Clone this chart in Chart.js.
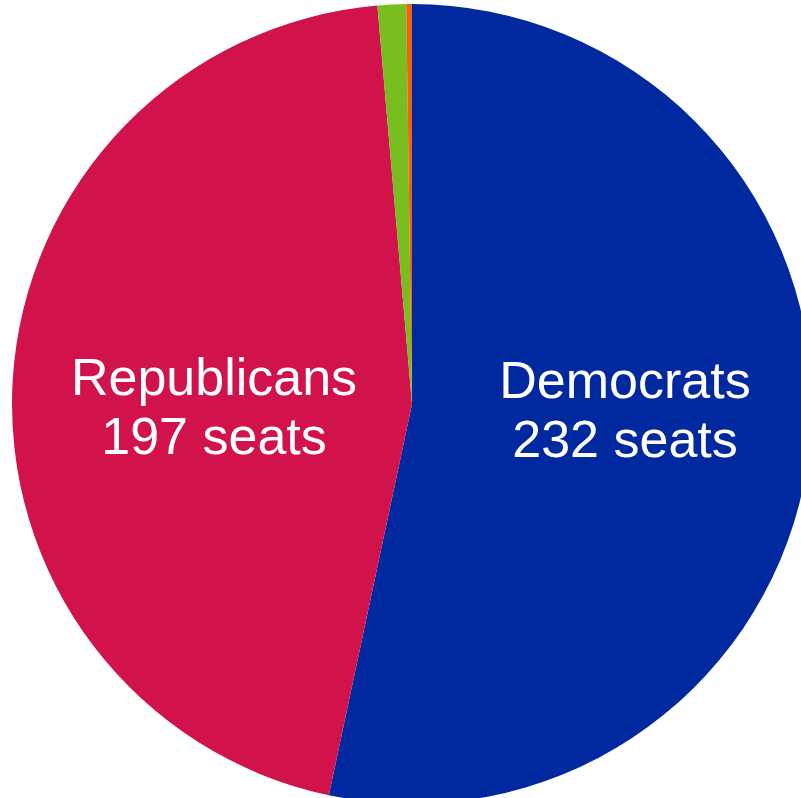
<!DOCTYPE html>
<html>
<head>
<meta charset="utf-8">
<script src="https://cdn.jsdelivr.net/npm/chart.js@4.4.1/dist/chart.umd.min.js"></script>
<style>
  html, body { margin: 0; padding: 0; background: #ffffff; overflow: hidden; width: 801px; height: 798px; }
  #wrap { position: absolute; left: 0; top: 0; width: 824px; height: 808px; }
</style>
</head>
<body>
<div id="wrap"><canvas id="c" width="824" height="808"></canvas></div>
<script>
// House seats by party
const parties = ['Democrats', 'Republicans', 'Independents', 'Other'];
const seats = [232, 197, 5, 1];
const partyColors = ['#0029a0', '#d2124a', '#78be1f', '#ee6410'];
// Which slices carry an in-chart caption
const captioned = [true, true, false, false];

// Captions drawn inside the two large slices
const sliceCaptions = {
  id: 'sliceCaptions',
  afterDatasetsDraw(chart) {
    const ctx = chart.ctx;
    const arcs = chart.getDatasetMeta(0).data;
    const cx = arcs[0].x, cy = arcs[0].y;
    const offsets = [
      { dx: 213, dy: -6 },   // Democrats, right half
      { dx: -198, dy: -9 }   // Republicans, left half
    ];
    ctx.save();
    ctx.fillStyle = '#ffffff';
    ctx.font = '52px "Liberation Sans", Arial, sans-serif';
    ctx.textAlign = 'center';
    ctx.textBaseline = 'alphabetic';
    parties.forEach((name, i) => {
      if (!captioned[i]) return;
      const o = offsets[i];
      ctx.fillText(name, cx + o.dx, cy + o.dy);
      ctx.fillText(seats[i] + ' seats', cx + o.dx, cy + o.dy + 59);
    });
    ctx.restore();
  }
};

new Chart(document.getElementById('c'), {
  type: 'pie',
  data: {
    labels: parties,
    datasets: [{
      data: seats,
      backgroundColor: partyColors,
      borderWidth: 0
    }]
  },
  options: {
    responsive: false,
    animation: false,
    radius: 400,
    rotation: 0,
    layout: { padding: 0 },
    plugins: {
      legend: { display: false },
      tooltip: { enabled: false }
    }
  },
  plugins: [sliceCaptions]
});
</script>
</body>
</html>
